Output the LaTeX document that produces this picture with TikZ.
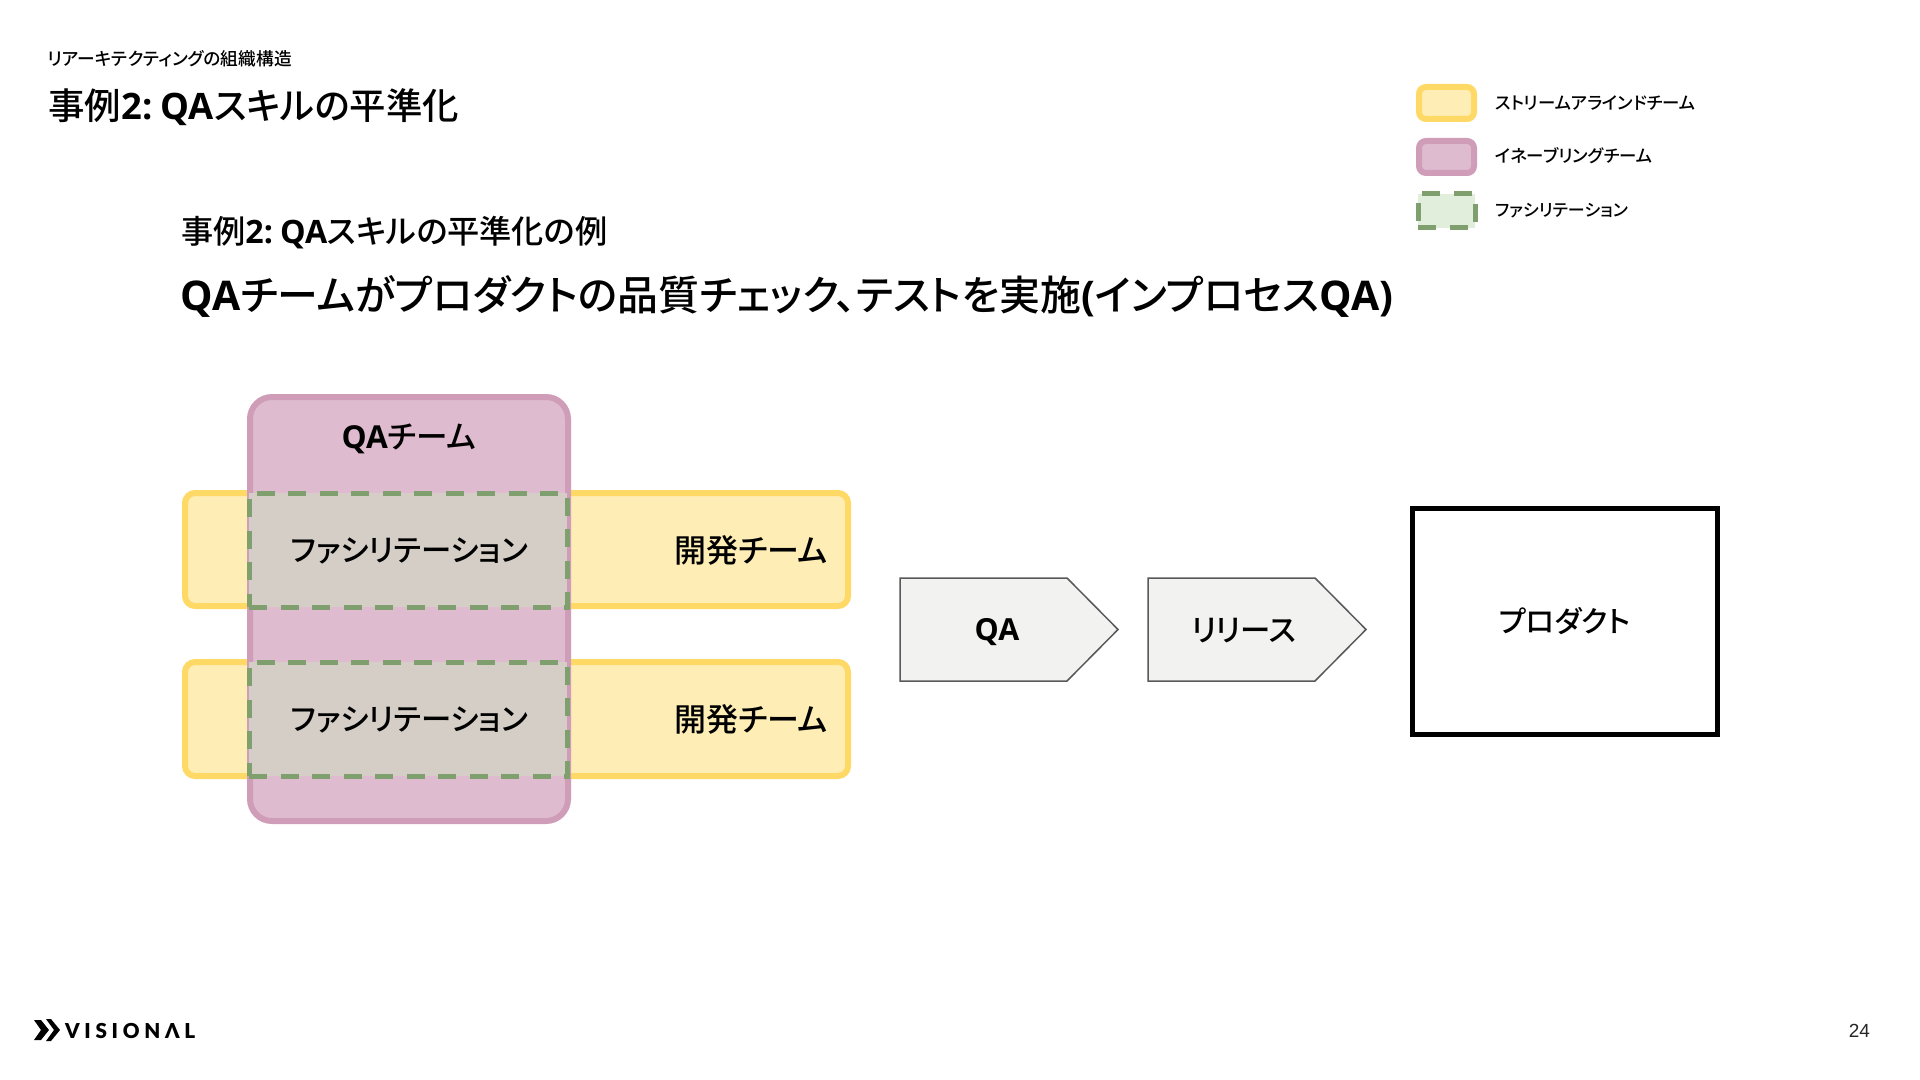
\documentclass[tikz,border=0pt]{standalone}
\usepackage{fontspec}
\setmainfont{Noto Sans CJK JP Medium}[RawFeature=+palt]
\newfontfamily\latinsb{Open Sans Bold}
\newfontfamily\logofont{Lato Black}[LetterSpace=23]
\newfontfamily\pagefont{Liberation Sans}
\newcommand{\lat}[1]{{\latinsb #1}}
\newcommand{\twoqa}{\lat{2:\hspace{0.22em}QA}}
\definecolor{yellowfill}{HTML}{FEEDB5}
\definecolor{yellowline}{HTML}{FFD966}
\definecolor{pinkfill}{HTML}{DFBBCF}
\definecolor{pinkline}{HTML}{CF9DB8}
\definecolor{greenline}{HTML}{7F9F6F}
\definecolor{overlapfill}{HTML}{D4CEC6}
\definecolor{legendgreen}{HTML}{E2EEDC}
\definecolor{stepfill}{HTML}{F2F2F0}
\definecolor{stepline}{HTML}{595959}
\tikzset{
  box/.style={rectangle,inner sep=0pt,outer sep=0pt},
  streamteam/.style={box,fill=yellowfill,draw=yellowline,line width=3pt,rounded corners=5pt},
  enablingteam/.style={box,fill=pinkfill,draw=pinkline,line width=3pt,rounded corners=11pt},
  facil/.style={box,fill=overlapfill,draw=greenline,line width=2.5pt,dash pattern=on 9pt off 6.75pt},
  legendfacil/.style={facil,fill=legendgreen},
  label/.style={inner sep=0pt,outer sep=0pt,font=\fontsize{15.2pt}{18pt}\selectfont,text=black},
  devlabel/.style={label,font=\fontsize{16pt}{18pt}\selectfont},
  legendlabel/.style={inner sep=0pt,outer sep=0pt,anchor=west,font=\fontsize{8.7pt}{10pt}\selectfont,text=black},
  stepshape/.style={fill=stepfill,draw=stepline,line width=0.75pt,line join=miter},
  heading/.style={inner sep=0pt,outer sep=0pt,anchor=base west,text=black}
}
\begin{document}
\begin{tikzpicture}[x=0.5pt,y=-0.5pt]
\useasboundingbox (0,0) rectangle (1920,1080);
\fill[white] (0,0) rectangle (1920,1080);

\node[heading,font=\fontsize{8.85pt}{10pt}\selectfont] (crumb) at (47.5,65.5) {リアーキテクティングの組織構造};
\node[heading,font=\fontsize{18.2pt}{21pt}\selectfont] (title) at (48.5,119.5) {事例\twoqa スキルの平準化};
\node[heading,font=\fontsize{16.1pt}{19pt}\selectfont] (sub) at (181,244) {事例\twoqa スキルの平準化の例};
\node[heading,font=\fontsize{20.45pt}{25pt}\selectfont] (main) at (180.5,311) {\lat{QA}チームがプロダクトの品質チェック、テストを実施\lat{(}インプロセス\lat{QA)}};

% legend
\node[streamteam,minimum width=27.5pt,minimum height=16pt,rounded corners=3.5pt] (lg1) at (1446.5,103) {};
\node[enablingteam,minimum width=27.5pt,minimum height=16pt,rounded corners=3.5pt] (lg2) at (1446.5,157) {};
\node[legendfacil,minimum width=28.5pt,minimum height=17pt] (lg3) at (1446.5,211) {};
\node[legendlabel] (lt1) at (1495,103) {ストリームアラインドチーム};
\node[legendlabel] (lt2) at (1495,156) {イネーブリングチーム};
\node[legendlabel,font=\fontsize{8.5pt}{10pt}\selectfont] (lt3) at (1495,210.5) {ファシリテーション};

% teams
\node[streamteam,minimum width=331.5pt,minimum height=56.5pt] (dev1) at (516.5,549.5) {};
\node[streamteam,minimum width=331.5pt,minimum height=57pt] (dev2) at (516.5,719) {};
\node[enablingteam,minimum width=159pt,minimum height=212pt] (qa) at (409,609) {};
\node[facil,minimum width=159pt,minimum height=57pt] (fa1) at (408,550) {};
\node[facil,minimum width=159pt,minimum height=57pt] (fa2) at (408,719) {};
\node[label,font=\fontsize{15.8pt}{18pt}\selectfont] (qat) at (409,438.5) {\lat{QA}チーム};
\node[label] at (409.5,551) (fat1) {ファシリテーション};
\node[label] at (409.5,720) (fat2) {ファシリテーション};
\node[devlabel] (devt1) at (751,550) {開発チーム};
\node[devlabel] (devt2) at (751,719) {開発チーム};

% flow
\draw[stepshape] (900,578) -- (1067,578) -- (1118,629.5) -- (1067,681) -- (900,681) -- cycle;
\draw[stepshape] (1148,578) -- (1315,578) -- (1366,629.5) -- (1315,681) -- (1148,681) -- cycle;
\node[label] (qastep) at (997,632) {\lat{QA}};
\node[label] (relstep) at (1244,631) {リリース};
\node[box,draw=black,line width=2.5pt,minimum width=152.5pt,minimum height=113pt] (product) at (1564.5,621.5) {};
\node[label,font=\fontsize{14.7pt}{18pt}\selectfont] (prodt) at (1565,621.5) {プロダクト};

% footer
\fill[black] (34,1020) -- (41,1020) -- (49,1030) -- (41,1040) -- (34,1040) -- (41,1030) -- cycle;
\fill[black] (46,1019) -- (51,1019) -- (60,1030) -- (51,1041) -- (46,1041) -- (54,1030) -- cycle;
\node[heading,font=\logofont\fontsize{10.3pt}{12pt}\selectfont] (logo) at (65,1038) {VISIONΛL};
\node[inner sep=0pt,outer sep=0pt,anchor=base east,text=black!85,font=\pagefont\fontsize{9.5pt}{12pt}\selectfont] (page) at (1870,1037) {24};
\end{tikzpicture}
\end{document}
